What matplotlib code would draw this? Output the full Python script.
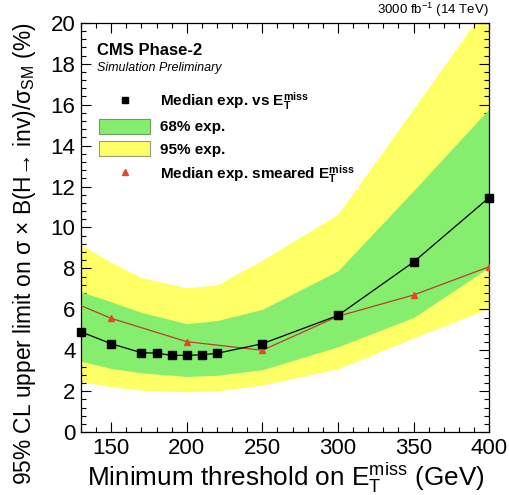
import matplotlib
matplotlib.use("Agg")
import matplotlib.pyplot as plt
from matplotlib.lines import Line2D
from matplotlib.patches import Patch
from matplotlib.ticker import MultipleLocator

# ── Data ──────────────────────────────────────────────────────────────────────

met_cut = [130, 150, 170, 180, 190, 200, 210, 220, 250, 300, 350, 400]
median_exp = [4.90, 4.32, 3.88, 3.86, 3.75, 3.75, 3.78, 3.85, 4.32, 5.70, 8.31, 11.46]

smeared_cut = [130, 150, 200, 250, 300, 350, 400]
median_smeared = [6.18, 5.56, 4.42, 4.00, 5.66, 6.70, 8.08]

band_cut = [130, 150, 170, 200, 220, 250, 300, 350, 400]
band68_lo = [3.47, 3.11, 2.90, 2.72, 2.78, 3.05, 4.17, 5.60, 8.05]
band68_hi = [6.86, 6.37, 5.85, 5.30, 5.45, 6.00, 7.88, 11.80, 15.80]
band95_lo = [2.46, 2.22, 2.05, 1.97, 2.02, 2.30, 3.10, 4.60, 6.05]
band95_hi = [9.15, 8.30, 7.55, 7.05, 7.20, 8.40, 10.65, 15.80, 21.00]

# ── Style ─────────────────────────────────────────────────────────────────────

plt.rcParams["font.family"] = ["Liberation Sans", "DejaVu Sans"]
plt.rcParams["mathtext.fontset"] = "custom"
plt.rcParams["mathtext.rm"] = "Liberation Sans"
plt.rcParams["mathtext.it"] = "Liberation Sans:italic"
plt.rcParams["mathtext.bf"] = "Liberation Sans:bold"
plt.rcParams["mathtext.sf"] = "Liberation Sans"

green = "#86ee6e"
yellow = "#ffff66"

fig = plt.figure(figsize=(5.09, 4.95), dpi=100)
ax = fig.add_axes([0.159, 0.127, 0.802, 0.827])

ax.fill_between(band_cut, band95_lo, band95_hi, color=yellow, linewidth=0, zorder=1)
ax.fill_between(band_cut, band68_lo, band68_hi, color=green, linewidth=0, zorder=2)

ax.plot(smeared_cut, median_smeared, color="#b5402c", linewidth=0.9,
        marker="^", markersize=4.5, markerfacecolor="#e8452a",
        markeredgecolor="#e8452a", markevery=slice(1, None), zorder=3)
ax.plot(met_cut, median_exp, color="black", linewidth=0.9,
        marker="s", markersize=5.5, zorder=4, clip_on=False)

ax.set_xlim(130, 400)
ax.set_ylim(0, 20)
ax.xaxis.set_major_locator(MultipleLocator(50))
ax.xaxis.set_minor_locator(MultipleLocator(10))
ax.yaxis.set_major_locator(MultipleLocator(2))
ax.yaxis.set_minor_locator(MultipleLocator(0.4))
ax.tick_params(which="both", direction="in", top=True, right=True, width=0.8)
ax.tick_params(which="major", length=7)
ax.tick_params(which="minor", length=3.5)
ax.tick_params(axis="x", labelsize=16, pad=4)
ax.tick_params(axis="y", labelsize=16, pad=4)
for sp in ax.spines.values():
    sp.set_linewidth(0.9)

ax.set_xlabel(r"Minimum threshold on $\mathrm{E}_{\mathrm{T}}^{\mathrm{miss}}$ (GeV)",
              fontsize=18.8, va="baseline")
ax.xaxis.set_label_coords(0.502, -0.131)
ax.set_ylabel(r"95% CL upper limit on σ × B(H→ inv)/σ$_{\mathrm{SM}}$ (%)",
              fontsize=16.4, loc="top")
ax.yaxis.set_label_coords(-0.105, 1.0)

ax.text(0.039, 0.951, "CMS Phase-2", transform=ax.transAxes,
        fontsize=12, fontweight="bold", va="top", ha="left")
ax.text(0.039, 0.905, "Simulation Preliminary", transform=ax.transAxes,
        fontsize=9, style="italic", va="top", ha="left")
ax.text(1.0, 1.008, r"3000 fb$^{-1}$ (14 TeV)", transform=ax.transAxes,
        fontsize=9.5, va="bottom", ha="right")

handles = [
    Line2D([], [], color="black", marker="s", linestyle="none", markersize=5),
    Patch(facecolor=green, edgecolor="#6f9c62", linewidth=0.8),
    Patch(facecolor=yellow, edgecolor="#9a9a80", linewidth=0.8),
    Line2D([], [], color="#e8452a", marker="^", linestyle="none", markersize=4),
]
labels = [
    r"Median exp. vs $\mathbf{E}_{\mathbf{T}}^{\mathbf{miss}}$",
    "68% exp.",
    "95% exp.",
    r"Median exp. smeared $\mathbf{E}_{\mathbf{T}}^{\mathbf{miss}}$",
]
leg = ax.legend(handles, labels, loc="upper left", bbox_to_anchor=(0.034, 0.846),
                prop={"weight": "bold", "size": 11}, handlelength=3.3,
                handleheight=1.15, handletextpad=0.65, labelspacing=0.42,
                borderpad=0.3, borderaxespad=0, frameon=True, fancybox=False,
                facecolor="white", edgecolor="none", framealpha=1)

fig.savefig("out.png", dpi=100, facecolor="white")
